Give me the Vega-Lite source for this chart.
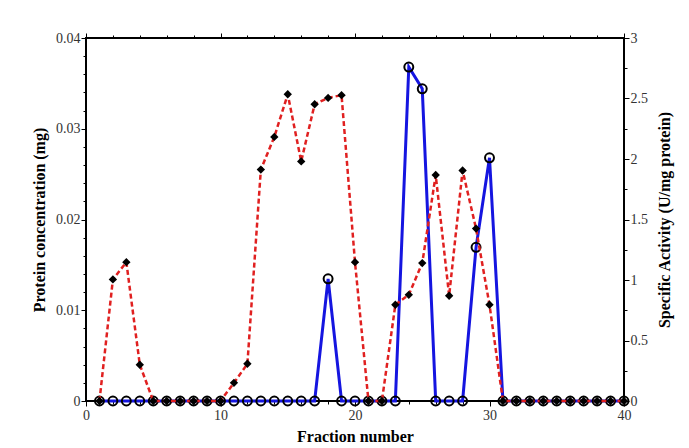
{
  "$schema": "https://vega.github.io/schema/vega-lite/v6.json",
  "autosize": "none",
  "width": 538,
  "height": 363,
  "padding": {"left": 86, "top": 38, "right": 65, "bottom": 47},
  "background": "white",
  "config": {
    "view": {"stroke": "black", "strokeWidth": 2},
    "axis": {
      "grid": false,
      "domain": false,
      "ticks": true,
      "tickColor": "black",
      "tickWidth": 1,
      "zindex": 1,
      "labelFont": "Liberation Serif",
      "labelFontSize": 14,
      "labelColor": "#333333",
      "titleFont": "Liberation Serif",
      "titleFontSize": 16,
      "titleFontWeight": "bold",
      "titleColor": "black",
      "labelOverlap": false,
      "labelFlush": false
    }
  },
  "data": {
    "values": [
      {"fraction": 1, "protein": 0, "activity": 0},
      {"fraction": 2, "protein": 0.0134, "activity": 0},
      {"fraction": 3, "protein": 0.0153, "activity": 0},
      {"fraction": 4, "protein": 0.004, "activity": 0},
      {"fraction": 5, "protein": 0, "activity": 0},
      {"fraction": 6, "protein": 0, "activity": 0},
      {"fraction": 7, "protein": 0, "activity": 0},
      {"fraction": 8, "protein": 0, "activity": 0},
      {"fraction": 9, "protein": 0, "activity": 0},
      {"fraction": 10, "protein": 0, "activity": 0},
      {"fraction": 11, "protein": 0.002, "activity": 0},
      {"fraction": 12, "protein": 0.0041, "activity": 0},
      {"fraction": 13, "protein": 0.0255, "activity": 0},
      {"fraction": 14, "protein": 0.0291, "activity": 0},
      {"fraction": 15, "protein": 0.0338, "activity": 0},
      {"fraction": 16, "protein": 0.0264, "activity": 0},
      {"fraction": 17, "protein": 0.0327, "activity": 0},
      {"fraction": 18, "protein": 0.0334, "activity": 1.01},
      {"fraction": 19, "protein": 0.0337, "activity": 0},
      {"fraction": 20, "protein": 0.0153, "activity": 0},
      {"fraction": 21, "protein": 0, "activity": 0},
      {"fraction": 22, "protein": 0, "activity": 0},
      {"fraction": 23, "protein": 0.0106, "activity": 0},
      {"fraction": 24, "protein": 0.0117, "activity": 2.76},
      {"fraction": 25, "protein": 0.0152, "activity": 2.58},
      {"fraction": 26, "protein": 0.0249, "activity": 0},
      {"fraction": 27, "protein": 0.0116, "activity": 0},
      {"fraction": 28, "protein": 0.0254, "activity": 0},
      {"fraction": 29, "protein": 0.019, "activity": 1.27},
      {"fraction": 30, "protein": 0.0106, "activity": 2.01},
      {"fraction": 31, "protein": 0, "activity": 0},
      {"fraction": 32, "protein": 0, "activity": 0},
      {"fraction": 33, "protein": 0, "activity": 0},
      {"fraction": 34, "protein": 0, "activity": 0},
      {"fraction": 35, "protein": 0, "activity": 0},
      {"fraction": 36, "protein": 0, "activity": 0},
      {"fraction": 37, "protein": 0, "activity": 0},
      {"fraction": 38, "protein": 0, "activity": 0},
      {"fraction": 39, "protein": 0, "activity": 0},
      {"fraction": 40, "protein": 0, "activity": 0}
    ]
  },
  "layer": [
    {
      "layer": [
        {
          "mark": {"type": "line", "color": "#1515e0", "strokeWidth": 3},
          "encoding": {
            "x": {
              "field": "fraction", "type": "quantitative",
              "scale": {"domain": [0, 40], "nice": false},
              "axis": {
                "orient": "top", "title": null, "labels": false,
                "values": [0, 10, 20, 30, 40],
                "tickSize": 5
              }
            },
            "y": {
              "field": "activity", "type": "quantitative",
              "scale": {"domain": [0, 3], "nice": false},
              "axis": {
                "orient": "right",
                "title": "Specific Activity (U/mg protein)",
                "titleAngle": 270,
                "values": [0, 0.5, 1, 1.5, 2, 2.5, 3],
                "labelExpr": "format(datum.value, '~g')",
                "tickSize": 5,
                "labelPadding": 1,
                "titlePadding": 25
              }
            }
          }
        },
        {
          "mark": {"type": "point", "shape": "circle", "filled": false, "color": "black", "size": 80, "strokeWidth": 2, "opacity": 1},
          "encoding": {
            "x": {
              "field": "fraction", "type": "quantitative",
              "axis": {
                "orient": "top", "title": null, "labels": false,
                "values": [2,4,6,8,12,14,16,18,22,24,26,28,32,34,36,38],
                "tickSize": 3
              }
            },
            "y": {
              "field": "activity", "type": "quantitative",
              "axis": {
                "orient": "right", "title": null, "labels": false,
                "values": [0.25, 0.75, 1.25, 1.75, 2.25, 2.75],
                "tickSize": 3
              }
            }
          }
        }
      ],
      "resolve": {"axis": {"x": "independent", "y": "independent"}}
    },
    {
      "layer": [
        {
          "mark": {"type": "line", "color": "#e02020", "strokeWidth": 2.5, "strokeDash": [5, 3]},
          "encoding": {
            "x": {
              "field": "fraction", "type": "quantitative",
              "scale": {"domain": [0, 40], "nice": false},
              "axis": {
                "orient": "bottom", "title": "Fraction number",
                "values": [0, 10, 20, 30, 40],
                "tickSize": 5,
                "labelPadding": 2,
                "titlePadding": 6
              }
            },
            "y": {
              "field": "protein", "type": "quantitative",
              "scale": {"domain": [0, 0.04], "nice": false},
              "axis": {
                "orient": "left",
                "title": "Protein concentration (mg)",
                "values": [0, 0.01, 0.02, 0.03, 0.04],
                "labelExpr": "datum.value < 0.0001 ? '0' : format(datum.value, '.2f')",
                "tickSize": 5,
                "labelPadding": 1,
                "titlePadding": 8
              }
            }
          }
        },
        {
          "mark": {"type": "point", "shape": "diamond", "filled": true, "color": "black", "size": 70, "opacity": 1},
          "encoding": {
            "x": {
              "field": "fraction", "type": "quantitative",
              "axis": {
                "orient": "bottom", "title": null, "labels": false,
                "values": [2,4,6,8,12,14,16,18,22,24,26,28,32,34,36,38],
                "tickSize": 3
              }
            },
            "y": {
              "field": "protein", "type": "quantitative",
              "axis": {
                "orient": "left", "title": null, "labels": false,
                "values": [0.002,0.004,0.006,0.008,0.012,0.014,0.016,0.018,0.022,0.024,0.026,0.028,0.032,0.034,0.036,0.038],
                "tickSize": 3
              }
            }
          }
        }
      ],
      "resolve": {"axis": {"x": "independent", "y": "independent"}}
    }
  ],
  "resolve": {"scale": {"y": "independent"}, "axis": {"x": "independent", "y": "independent"}}
}
